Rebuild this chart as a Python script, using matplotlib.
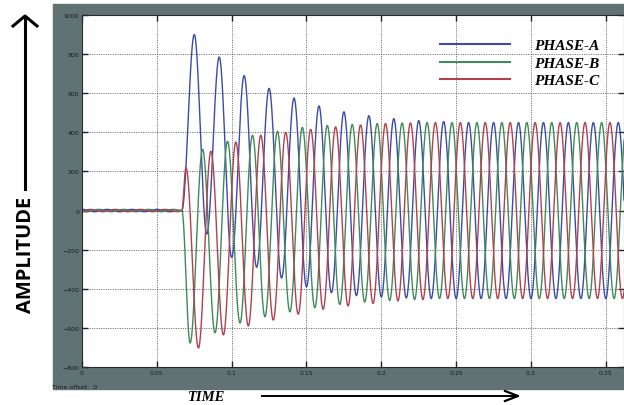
import numpy as np
import matplotlib
matplotlib.use("Agg")
import matplotlib.pyplot as plt
from matplotlib.patches import Rectangle

# values (time in s, amplitude in scope units)
freq = 60.0
t_fault = 0.0667
t_end = 0.365
pre_ripple = 6.0
steady_amp = 450.0

phases = ["PHASE-A", "PHASE-B", "PHASE-C"]
colors = ["#3b4ca8", "#3f8a57", "#b3404e"]

# where the first peak after the fault falls, as a fraction of a cycle
first_peak = [1 / 2, 1 / 3, 1 / 6]

# successive peaks / troughs after the fault
ext_a = [900, -120, 785, -240, 690, -290, 625, -345, 575, -390, 535, -420,
         505, -435, 485, -442, 470, -447, 460, -450, 455, -450]
ext_b = [-677, 313, -625, 354, -575, 385, -543, 405, -518, 425, -497, 435,
         -480, 440, -468, 445, -460, 448, -455, 450, -450]
ext_c = [220, -703, 303, -636, 350, -590, 385, -560, 400, -530, 415, -505,
         428, -488, 438, -475, 445, -462, 448, -455, 450, -450]

x_ticks = [0, 0.05, 0.1, 0.15, 0.2, 0.25, 0.3, 0.35]
x_labels = ["0", "0.05", "0.1", "0.15", "0.2", "0.25", "0.3", "0.35"]
y_ticks = [-800, -600, -400, -200, 0, 200, 400, 600, 800, 1000]


def trace(t, first, ext):
    half = 0.5 / freq
    t0 = t_fault + first / freq
    # small ripple before the fault
    k = np.arange(int(t_fault / half) + 3)
    pre_t = (t_fault - first / freq - k * half)[::-1]
    pre_v = (pre_ripple * np.where(k % 2 == 0, -1, 1) * np.sign(ext[0]))[::-1]
    # read peaks, then the steady swing
    n = int((t_end - t0) / half) + 3
    post_t = t0 + np.arange(n) * half
    post_v = np.array([ext[i] if i < len(ext) else steady_amp * np.sign(ext[0]) * (-1) ** i
                       for i in range(n)], dtype=float)
    kt = np.concatenate([pre_t, [t_fault], post_t])
    kv = np.concatenate([pre_v, [0.0], post_v])
    idx = np.clip(np.searchsorted(kt, t, side="right") - 1, 0, len(kt) - 2)
    s = (t - kt[idx]) / (kt[idx + 1] - kt[idx])
    return kv[idx] + (kv[idx + 1] - kv[idx]) * (1 - np.cos(np.pi * s)) / 2


W, H = 624, 406
fig = plt.figure(figsize=(W / 100, H / 100), dpi=100)
fig.patch.set_facecolor("white")

# grey scope frame
fig.patches.append(Rectangle((53 / W, 1 - 390 / H), (W - 53) / W, (390 - 5) / H,
                             transform=fig.transFigure, color="#617275", zorder=-5))

ax = fig.add_axes([82 / W, 1 - 368 / H, 1 - 82 / W, (368 - 16) / H])
ax.set_zorder(2)
ax.set_facecolor("white")

t = np.linspace(0, t_end, 8000)
lines = []
for name, col, fp, ext in zip(phases, colors, first_peak, [ext_a, ext_b, ext_c]):
    ln, = ax.plot(t, trace(t, fp, ext), color=col, lw=1.0, label=name)
    lines.append(ln)

ax.set_xlim(0, 0.3622)
ax.set_ylim(-800, 1000)
ax.set_xticks(x_ticks)
ax.set_xticklabels(x_labels)
ax.set_yticks(y_ticks)
ax.tick_params(direction="in", length=4, width=1, color="#222222", top=True, right=True,
               labelsize=4.5, labelcolor="#1c1c1c", pad=2)
ax.grid(True, color="#4a4a4a", linestyle=(0, (1.2, 1.6)), linewidth=0.6)
for sp in ax.spines.values():
    sp.set_color("#2a2a2a")
    sp.set_linewidth(0.8)

leg = ax.legend(handles=lines, loc="upper left", bbox_to_anchor=(432 / W, 1 - 32 / H),
                bbox_transform=fig.transFigure, frameon=False, borderpad=0,
                handlelength=4.6, handletextpad=1.6, labelspacing=0.25,
                prop={"family": ["Liberation Serif", "DejaVu Serif"], "weight": "bold",
                      "style": "italic", "size": 11})
for ln in leg.get_lines():
    ln.set_linewidth(1.5)

fig.text(52 / W, 1 - 388 / H, "Time offset:  0", fontsize=4.5, color="#1c1c1c",
         va="center", ha="left", zorder=3)

# hand drawn axis captions
fig.text(26 / W, 1 - 255 / H, "AMPLITUDE", rotation=90, ha="center", va="center",
         fontsize=14.5, fontweight="bold", family=["Open Sans", "DejaVu Sans"])
fig.add_artist(plt.Line2D([25 / W, 25 / W], [1 - 190 / H, 1 - 20 / H], color="black", lw=2.2))
fig.add_artist(plt.Line2D([13 / W, 25 / W, 37 / W], [1 - 27 / H, 1 - 17 / H, 1 - 27 / H],
                          color="black", lw=2.2))

fig.text(188 / W, 1 - 398 / H, "TIME", ha="left", va="center", fontsize=10.5,
         fontweight="bold", style="italic", family=["Liberation Serif", "DejaVu Serif"])
fig.add_artist(plt.Line2D([262 / W, 518 / W], [1 - 397 / H, 1 - 397 / H], color="black", lw=1.4))
fig.add_artist(plt.Line2D([505 / W, 518 / W, 505 / W], [1 - 392 / H, 1 - 397 / H, 1 - 402 / H],
                          color="black", lw=1.6))

fig.savefig("out.png", dpi=100)
